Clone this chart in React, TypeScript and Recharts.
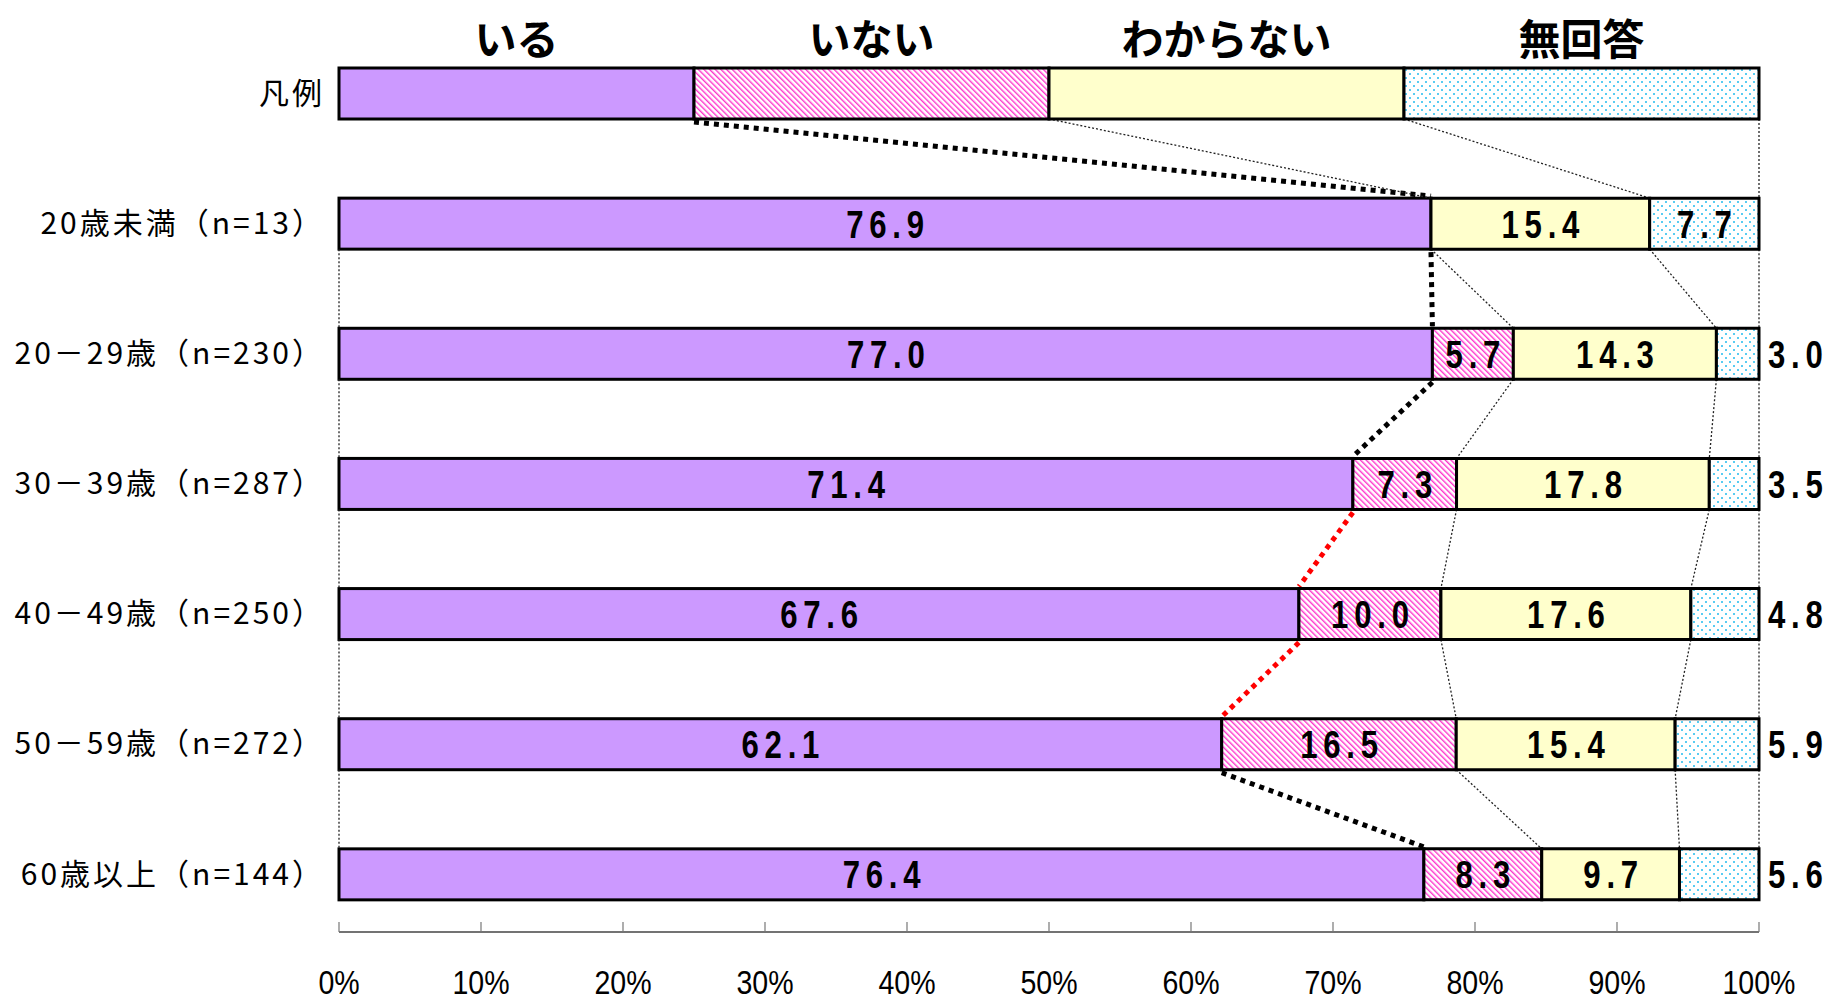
import { BarChart, Bar, XAxis, YAxis, LabelList } from 'recharts';

// rows (first row is the legend sample bar)
const categories = [
  '凡例',
  '20歳未満（n=13）',
  '20－29歳（n=230）',
  '30－39歳（n=287）',
  '40－49歳（n=250）',
  '50－59歳（n=272）',
  '60歳以上（n=144）',
];
const seriesNames = ['いる', 'いない', 'わからない', '無回答'];
const iru = [25, 76.9, 77.0, 71.4, 67.6, 62.1, 76.4];
const inai = [25, 0, 5.7, 7.3, 10.0, 16.5, 8.3];
const wakaranai = [25, 15.4, 14.3, 17.8, 17.6, 15.4, 9.7];
const mukaitou = [25, 7.7, 3.0, 3.5, 4.8, 5.9, 5.6];
const xTickPercents = [0, 10, 20, 30, 40, 50, 60, 70, 80, 90, 100];

const seriesKeys = ['iru', 'inai', 'wakaranai', 'mukaitou'];

const data = categories.map((name, i) => ({
  name,
  iru: iru[i],
  inai: inai[i],
  wakaranai: wakaranai[i],
  mukaitou: mukaitou[i],
}));

// layout
const W = 1831;
const H = 1004;
const MARGIN = { top: 28, right: 72, bottom: 0, left: 0 };
const X_AXIS_H = 65;
const Y_AXIS_W = 339;
const BAR_SIZE = 51;
const PLOT_W = W - Y_AXIS_W - MARGIN.right;
const PLOT_H = H - MARGIN.top - MARGIN.bottom - X_AXIS_H;
const BAND = PLOT_H / categories.length;
const GAP = BAND - BAR_SIZE;

// links into these rows are drawn in red
const RED_LINK_ROWS = [4, 5];

const fills = ['#cc99ff', 'url(#hatchPink)', '#ffffcc', 'url(#dotsCyan)'];

const valueFont = {
  fontFamily: '"Liberation Sans", Arial, sans-serif',
  fontWeight: 700,
  fontSize: 38,
  letterSpacing: 7,
  fill: '#000',
};

const headerFont = {
  fontFamily: '"Noto Sans CJK JP", sans-serif',
  fontWeight: 700,
  fontSize: 42,
  fill: '#000',
};

function rowBounds(i: number) {
  const total = iru[i] + inai[i] + wakaranai[i] + mukaitou[i];
  const a = iru[i] / total;
  const b = a + inai[i] / total;
  const c = b + wakaranai[i] / total;
  return [0, a, b, c, 1];
}

function IruShape(props: any) {
  const { x, y, width, height, index, fill } = props;
  const bounds = rowBounds(index);
  const pp = width / bounds[1];
  const links: any[] = [];
  if (index > 0) {
    const prev = rowBounds(index - 1);
    const top = y - GAP;
    for (let k = index === 1 ? 1 : 0; k < 5; k++) {
      const x1 = x + prev[k] * pp;
      const x2 = x + bounds[k] * pp;
      if (k === 1) {
        links.push(
          <line
            key={k}
            x1={x1}
            y1={top + 3}
            x2={x2}
            y2={y - 2}
            stroke={RED_LINK_ROWS.includes(index) ? '#ff0000' : '#000'}
            strokeWidth={5}
            strokeDasharray="5 5"
          />
        );
      } else {
        links.push(
          <line key={k} x1={x1} y1={top} x2={x2} y2={y} stroke="#222" strokeWidth={1.3} strokeDasharray="2 2" />
        );
      }
    }
  }
  return (
    <g>
      <rect x={x} y={y} width={width} height={height} fill={fill} stroke="#000" strokeWidth={3} />
      {links}
    </g>
  );
}

const makeLabel = (s: number) => (p: any) => {
  const { x, y, width, height, index, value } = p;
  if (index === 0) {
    return (
      <text x={x + width / 2} y={y - 32} textAnchor="middle" dominantBaseline="central" style={headerFont}>
        {seriesNames[s]}
      </text>
    );
  }
  const v = Number(value);
  if (!v) return null;
  const outside = s === 3 && v < 6;
  const tx = outside ? x + width + 9 : x + width / 2 + 3;
  const ty = y + height / 2 + 1;
  return (
    <text
      transform={`translate(${tx},${ty}) scale(0.82,1)`}
      x={0}
      y={0}
      textAnchor={outside ? 'start' : 'middle'}
      dominantBaseline="central"
      style={valueFont}
    >
      {v.toFixed(1)}
    </text>
  );
};

function XTick(props: any) {
  const { x, y, payload } = props;
  const step = PLOT_W / 10;
  const ay = y - 7;
  return (
    <g>
      {payload.value < 1 && <line x1={x} x2={x + step} y1={ay} y2={ay} stroke="#444" strokeWidth={1.5} />}
      <line x1={x} x2={x} y1={ay - 10} y2={ay} stroke="#777" strokeWidth={1.2} />
      <text
        transform={`translate(${x},${y + 55}) scale(0.84,1)`}
        x={0}
        y={0}
        textAnchor="middle"
        style={{ fontFamily: '"Liberation Sans", Arial, sans-serif', fontSize: 34, fill: '#000' }}
      >
        {Math.round(payload.value * 100)}%
      </text>
    </g>
  );
}

export default function App() {
  return (
    <div style={{ width: W, height: H, background: '#fff' }}>
      <style>{'body{margin:0}'}</style>
      <BarChart width={W} height={H} data={data} layout="vertical" stackOffset="expand" margin={MARGIN} barSize={BAR_SIZE}>
        <defs>
          <pattern id="hatchPink" width="4" height="4" patternUnits="userSpaceOnUse" patternTransform="rotate(-45)">
            <rect width="4" height="4" fill="#ffffff" />
            <rect width="1.4" height="4" fill="#ff33cc" />
          </pattern>
          <pattern id="dotsCyan" width="8" height="8" patternUnits="userSpaceOnUse">
            <rect width="8" height="8" fill="#ffffff" />
            <circle cx="2" cy="2" r="1" fill="#22bbee" />
            <circle cx="6" cy="6" r="1" fill="#22bbee" />
          </pattern>
        </defs>
        <XAxis
          type="number"
          domain={[0, 1]}
          ticks={xTickPercents.map((t) => t / 100)}
          interval={0}
          height={X_AXIS_H}
          axisLine={false}
          tickLine={false}
          tickSize={0}
          tickMargin={0}
          tick={<XTick />}
        />
        <YAxis
          type="category"
          dataKey="name"
          width={Y_AXIS_W}
          axisLine={false}
          tickLine={false}
          tickSize={0}
          tickMargin={14}
          interval={0}
          tick={{
            fontFamily: '"Noto Sans CJK JP", sans-serif',
            fontSize: 30,
            fill: '#000',
            letterSpacing: 3,
          }}
        />
        {seriesKeys.map((k, s) => (
          <Bar
            key={k}
            dataKey={k}
            name={seriesNames[s]}
            stackId="a"
            fill={fills[s]}
            stroke="#000"
            strokeWidth={3}
            isAnimationActive={false}
            shape={s === 0 ? (p: any) => <IruShape {...p} /> : undefined}
          >
            <LabelList dataKey={k} content={makeLabel(s)} />
          </Bar>
        ))}
      </BarChart>
    </div>
  );
}
